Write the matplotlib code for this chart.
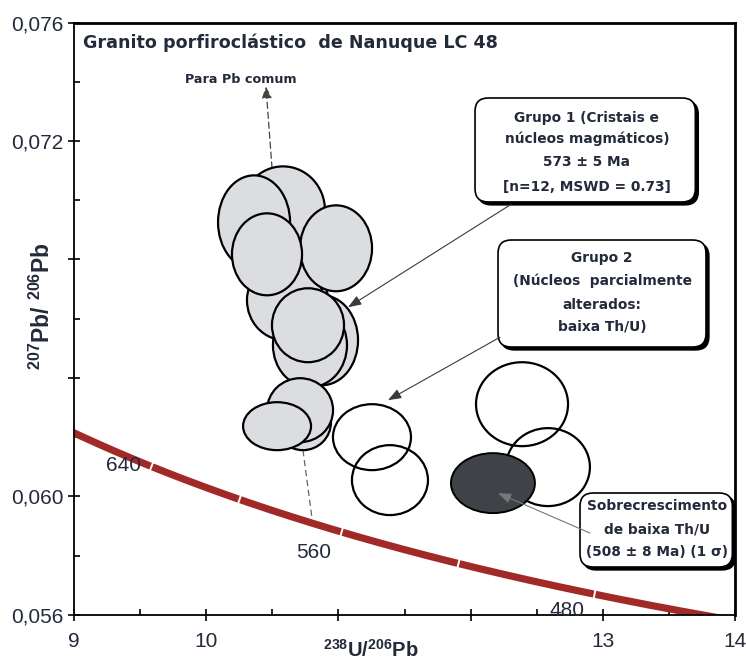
import numpy as np
import matplotlib
matplotlib.use("Agg")
import matplotlib.pyplot as plt
from matplotlib.patches import Ellipse, FancyBboxPatch
from matplotlib.ticker import FixedLocator, FixedFormatter

plt.rcParams["font.family"] = ["Liberation Sans", "DejaVu Sans"]
plt.rcParams["mathtext.fontset"] = "custom"
plt.rcParams["mathtext.bf"] = "Liberation Sans:bold"
plt.rcParams["mathtext.rm"] = "Liberation Sans:bold"
plt.rcParams["mathtext.it"] = "Liberation Sans:bold"

# ---- Tera-Wasserburg concordia -------------------------------------------
LAMBDA_238 = 1.55125e-10   # 1/yr
LAMBDA_235 = 9.8485e-10    # 1/yr
U238_U235 = 137.88


def tw_concordia(age_ma):
    t = np.asarray(age_ma, dtype=float) * 1e6
    e238 = np.exp(LAMBDA_238 * t) - 1.0
    e235 = np.exp(LAMBDA_235 * t) - 1.0
    return 1.0 / e238, e235 / e238 / U238_U235


concordia_ages = np.linspace(430, 700, 400)           # Ma
age_ticks = [640, 600, 560, 520, 480]                 # Ma
age_labels = [640, 560, 480]
age_label_offsets = [(-20, 0.5), (-19.5, -15), (-19.5, -11.5)]   # points

# ---- Spot analyses (centre, full width, full height) ---------------------
# Grupo 1: magmatic crystals and cores (drawn back to front)
g1_x = [10.581, 10.362, 10.649, 10.596, 10.982, 10.460,
        10.876, 10.785, 10.770, 10.732, 10.710, 10.536]
g1_y = [0.069659, 0.069255, 0.066624, 0.066624, 0.068378, 0.068175,
        0.065275, 0.065106, 0.065781, 0.062509, 0.062914, 0.062374]
g1_w = [0.635, 0.545, 0.545, 0.575, 0.545, 0.530,
        0.545, 0.560, 0.545, 0.424, 0.499, 0.514]
g1_h = [0.002968, 0.003170, 0.002698, 0.002698, 0.002900, 0.002766,
        0.003035, 0.002833, 0.002496, 0.001889, 0.002158, 0.001619]

# Grupo 2: partially altered cores (low Th/U)
g2_x = [11.254, 11.390, 12.389, 12.585]
g2_y = [0.062003, 0.060553, 0.063116, 0.060992]
g2_w = [0.590, 0.575, 0.696, 0.635]
g2_h = [0.002226, 0.002361, 0.002833, 0.002631]

# Low Th/U overgrowth
ov_x = [12.169]
ov_y = [0.060452]
ov_w = [0.635]
ov_h = [0.002024]

# ---- Axes ticks ---------------------------------------------------------
x_major = [9, 10, 11, 12, 13, 14]
x_major_labels = ["9", "10", "", "", "13", "14"]
x_minor = [9.5, 10.5, 11.5, 12.5, 13.5]
y_major = [0.056, 0.060, 0.064, 0.068, 0.072, 0.076]
y_major_labels = ["0,056", "0,060", "", "", "0,072", "0,076"]
y_minor = [0.058, 0.062, 0.066, 0.070, 0.074]

TEXT = "#232a3a"
FILL_G1 = "#dcdde0"
FILL_OV = "#3f4347"
CURVE = "#a12a29"
WIDE_BOLD = dict(family=["DejaVu Sans"], fontweight="bold")

fig = plt.figure(figsize=(7.46, 6.59), dpi=100)
ax = fig.add_axes([74 / 746, 44 / 659, 661 / 746, 592.5 / 659])
ax.set_xlim(9, 14)
ax.set_ylim(0.056, 0.076)

# concordia curve
cx, cy = tw_concordia(concordia_ages)
ax.plot(cx, cy, color=CURVE, lw=5.2, solid_capstyle="butt", zorder=2)

# age ticks along the curve (white notches perpendicular to the curve)
fig.canvas.draw()
for age in age_ticks:
    (x0, y0), (x1, y1) = np.column_stack(tw_concordia([age - 1, age + 1]))
    p0 = ax.transData.transform((x0, y0))
    p1 = ax.transData.transform((x1, y1))
    ang = np.degrees(np.arctan2(p1[1] - p0[1], p1[0] - p0[0]))
    tx, ty = tw_concordia(age)
    ax.plot([tx], [ty], marker=(2, 0, ang), ms=7.5, mec="white", mew=1.4,
            zorder=3)

for age, off in zip(age_labels, age_label_offsets):
    tx, ty = tw_concordia(age)
    ax.annotate(str(age), (tx, ty), xytext=off, textcoords="offset points",
                ha="center", va="center", fontsize=15, color=TEXT, zorder=4)

# ellipses
for x, y, w, h in zip(g1_x, g1_y, g1_w, g1_h):
    ax.add_patch(Ellipse((x, y), w, h, fc=FILL_G1, ec="black", lw=1.6,
                         zorder=6))
for x, y, w, h in zip(g2_x, g2_y, g2_w, g2_h):
    ax.add_patch(Ellipse((x, y), w, h, fc="none", ec="black", lw=1.6,
                         zorder=6))
for x, y, w, h in zip(ov_x, ov_y, ov_w, ov_h):
    ax.add_patch(Ellipse((x, y), w, h, fc=FILL_OV, ec="black", lw=1.4,
                         zorder=7))

# common-Pb direction and projection to the concordia
ax.annotate("", xy=(10.452, 0.07384), xytext=(10.498, 0.07108),
            arrowprops=dict(arrowstyle="-|>,head_length=0.7,head_width=0.3",
                            color="#444444", lw=0.9, ls=(0, (5, 3)),
                            shrinkA=0, shrinkB=0), zorder=5)
ax.plot([10.732, 10.800], [0.061565, 0.059272], color="#666666", lw=0.9,
        ls=(0, (5, 3)), zorder=5)
ax.text(10.263, 0.07408, "Para Pb comum", ha="center", va="center",
        fontsize=9.2, color=TEXT, **WIDE_BOLD)

# title
ax.text(0.014, 0.9655, "Granito porfiroclástico  de Nanuque LC 48",
        transform=ax.transAxes, ha="left", va="center", fontsize=12.6,
        color=TEXT, **WIDE_BOLD)

# annotation boxes
ASPECT = 592.5 / 661


def note_box(x0, y0, x1, y1):
    kw = dict(boxstyle="round,pad=0,rounding_size=0.02",
              transform=ax.transAxes, mutation_aspect=1 / ASPECT,
              clip_on=False)
    ax.add_patch(FancyBboxPatch((x0 + 0.0045, y0 - 0.005), x1 - x0, y1 - y0,
                                fc="black", ec="black", lw=1.0, zorder=8,
                                **kw))
    ax.add_patch(FancyBboxPatch((x0, y0), x1 - x0, y1 - y0, fc="white",
                                ec="black", lw=1.2, zorder=9, **kw))


def box_lines(xc, ys, lines):
    for y, s in zip(ys, lines):
        ax.text(xc, y, s, transform=ax.transAxes, ha="center", va="center",
                fontsize=9.9, color=TEXT, zorder=10, **WIDE_BOLD)


note_box(0.6067, 0.6971, 0.9400, 0.8726)
box_lines(0.776, [0.8388, 0.8034, 0.7646, 0.7224],
          ["Grupo 1 (Cristais e", "núcleos magmáticos)", "573 ± 5 Ma",
           "[n=12, MSWD = 0.73]"])

note_box(0.6415, 0.4523, 0.9561, 0.6329)
box_lines(0.7988, [0.6025, 0.5637, 0.5232, 0.4861],
          ["Grupo 2", "(Núcleos  parcialmente", "alterados:", "baixa Th/U)"])

note_box(0.7655, 0.0810, 0.9960, 0.2059)
box_lines(0.882, [0.184, 0.1435, 0.1063],
          ["Sobrecrescimento", "de baixa Th/U", "(508 ± 8 Ma) (1 σ)"])

arrow_kw = dict(arrowstyle="-|>,head_length=0.8,head_width=0.3",
                color="#3a3a3a", lw=0.8, shrinkA=0, shrinkB=0)
ax.annotate("", xy=(11.073, 0.066388), xytext=(12.306, 0.069862),
            arrowprops=arrow_kw, zorder=11)
ax.annotate("", xy=(11.375, 0.063251), xytext=(12.222, 0.065376),
            arrowprops=arrow_kw, zorder=11)
ax.annotate("", xy=(12.207, 0.060115), xytext=(12.903, 0.058766),
            arrowprops=dict(arrow_kw, color="#777777"), zorder=11)

# axes styling
for side in ("left", "bottom"):
    ax.spines[side].set_linewidth(1.3)
for side in ("top", "right"):
    ax.spines[side].set_linewidth(2.0)

ax.xaxis.set_major_locator(FixedLocator(x_major))
ax.xaxis.set_major_formatter(FixedFormatter(x_major_labels))
ax.xaxis.set_minor_locator(FixedLocator(x_minor))
ax.yaxis.set_major_locator(FixedLocator(y_major))
ax.yaxis.set_major_formatter(FixedFormatter(y_major_labels))
ax.yaxis.set_minor_locator(FixedLocator(y_minor))
ax.tick_params(which="major", direction="inout", length=9, width=1.2,
               labelsize=15, labelcolor=TEXT)
ax.tick_params(which="minor", direction="in", length=4, width=1.2)
ax.tick_params(axis="x", which="major", pad=8)
ax.tick_params(axis="y", which="major", pad=3)

# axis titles
fig.text(371 / 746, 0.004, r"$\mathbf{^{238}U/^{206}Pb}$", ha="center",
         va="baseline", fontsize=14.5, color=TEXT)
fig.text(42 / 746, 1 - 306 / 659, r"$\mathbf{^{207}Pb/\ ^{206}Pb}$",
         rotation=90, ha="center", va="center", fontsize=16.5, color=TEXT)

fig.savefig("out.png", dpi=100)
